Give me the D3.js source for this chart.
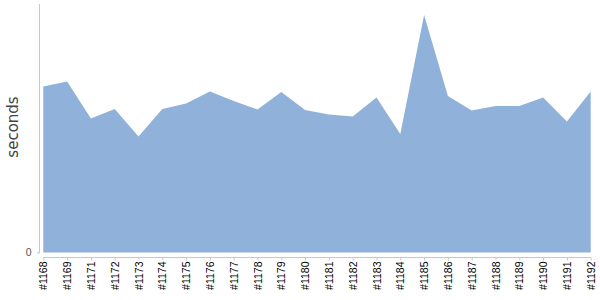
<!DOCTYPE html>
<html>
<head>
<meta charset="utf-8">
<script src="https://d3js.org/d3.v7.min.js"></script>
<style>
  body { margin: 0; background: white; }
</style>
</head>
<body>
<div class="chartDiv"></div>
<script>

// -----------------------Data--------------------------------//

let builds = ["#1168", "#1169", "#1171", "#1172", "#1173", "#1174", "#1175", "#1176",
    "#1177", "#1178", "#1179", "#1180", "#1181", "#1182", "#1183", "#1184",
    "#1185", "#1186", "#1187", "#1188", "#1189", "#1190", "#1191", "#1192"]

let seconds = [166, 171, 134, 143.5, 116, 143.5, 149, 161,
    151.5, 143, 160.5, 142.5, 138, 136, 155, 118.5,
    237.5, 156.5, 142, 146.5, 146.5, 155, 131, 161]

let yTicks = [0]

// -----------------------Setup--------------------------------//

let width = 600,
    height = 300

let x = d3.scalePoint().domain(builds).range([43.3, 590.7])
let y = d3.scaleLinear().domain([0, 248.5]).range([252.5, 4])

let svg = d3.select(".chartDiv").append("svg")
    .attr("width", width)
    .attr("height", height)
    .style("font-family", "'DejaVu Sans', sans-serif")

// area
let area = d3.area()
    .x((d, i) => x(builds[i]))
    .y0(y(0))
    .y1(d => y(d))

svg.append("path")
    .datum(seconds)
    .attr("d", area)
    .attr("fill", "#8fb1da")

// y axis (line sits a little left of the data)
let yAxis = svg.append("g")
    .attr("transform", "translate(39.5,0)")
    .call(d3.axisLeft(y).tickValues(yTicks).tickSize(2).tickPadding(6))

yAxis.select(".domain")
    .attr("stroke", "#c8c8c8")
    .attr("d", "M-2," + y(0) + "H0V" + y.range()[1])
yAxis.selectAll(".tick line").attr("stroke", "#c8c8c8")
yAxis.selectAll(".tick text")
    .attr("fill", "#555")
    .style("font-size", "10.5px")

// x axis (offset below the area)
let xAxis = svg.append("g")
    .attr("transform", "translate(0,257.5)")
    .call(d3.axisBottom(x).tickSize(3).tickPadding(2))

xAxis.select(".domain")
    .attr("stroke", "#c8c8c8")
    .attr("d", "M" + x.range()[0] + ",0H" + x.range()[1])
xAxis.selectAll(".tick line").attr("stroke", "#c8c8c8")
xAxis.selectAll(".tick text")
    .attr("fill", "#000")
    .style("font-size", "10.5px")
    .attr("transform", "rotate(-90)")
    .attr("text-anchor", "end")
    .attr("dy", "0.35em")
    .attr("x", -4)
    .attr("y", 0)

// y label
svg.append("text")
    .attr("transform", "translate(18,127) rotate(-90)")
    .attr("text-anchor", "middle")
    .attr("fill", "#444")
    .style("font-size", "15px")
    .text("seconds")

</script>
</body>
</html>
